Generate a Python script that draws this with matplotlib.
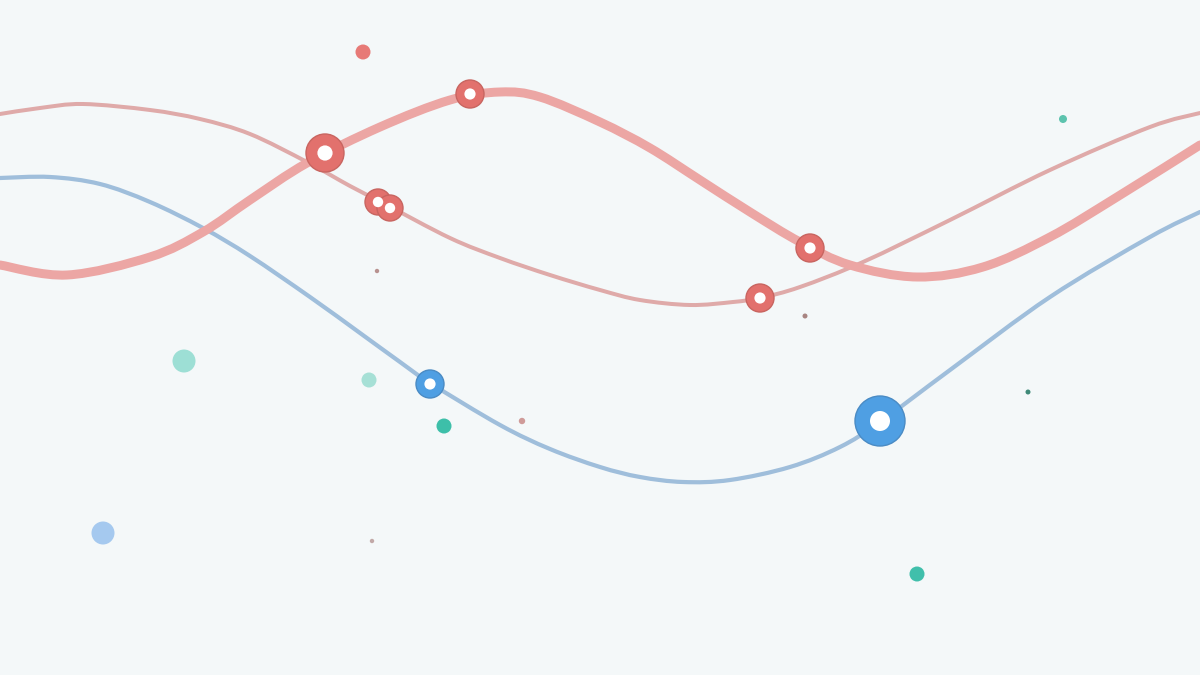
import numpy as np
import matplotlib.pyplot as plt
from matplotlib.path import Path
from matplotlib.patches import PathPatch

# all values in picture units (x to the right, y downwards)
thick_x = [0, 67, 150, 203, 250, 307, 380, 450, 500, 540, 600, 650, 700, 750, 800, 850, 917, 983, 1050, 1117, 1200]
thick_y = [265, 275, 257, 232, 200, 163, 127, 100, 92, 97, 122, 148, 180, 212, 242, 265, 277, 267, 237, 197, 145]

thin_x = [0, 40, 83, 150, 200, 250, 307, 350, 383, 450, 500, 550, 600, 640, 690, 733, 760, 800, 863, 950, 1050, 1150, 1200]
thin_y = [114, 108, 104, 110, 119, 134, 162, 186, 203, 238, 258, 275, 290, 300, 305, 302, 298, 287, 262, 220, 170, 127, 113]

blue_x = [0, 50, 100, 150, 203, 250, 310, 360, 400, 430, 500, 550, 600, 640, 683, 730, 790, 840, 880, 950, 1050, 1150, 1200]
blue_y = [178, 177, 184, 202, 228, 256, 297, 333, 362, 383, 425, 449, 467, 477, 482, 480, 467, 447, 422, 370, 297, 237, 212]

# ring markers sitting on the curves: x, y, outer radius
thick_mk_x = [325, 470, 810]
thick_mk_y = [153, 94, 248]
thick_mk_r = [19, 14, 14]
thin_mk_x = [378, 390, 760]
thin_mk_y = [202, 208, 298]
thin_mk_r = [13, 13, 14]
blue_mk_x = [430, 880]
blue_mk_y = [384, 421]
blue_mk_r = [14, 25]

# loose dots
dot_x = [363, 377, 805, 184, 369, 444, 522, 103, 372, 917, 1063, 1028]
dot_y = [52, 271, 316, 361, 380, 426, 421, 533, 541, 574, 119, 392]
dot_r = [7.5, 2.2, 2.5, 11.5, 7.5, 7.5, 3.2, 11.5, 2.2, 7.5, 4, 2.5]
dot_c = ['#e77a77', '#b89290', '#a88582', '#9ddfd5', '#a6e0d6', '#3dbfa9', '#cf9b99',
         '#a5c9ef', '#c2a9a8', '#40bfab', '#5cc3ae', '#3f8a78']

bg = '#f4f8f9'
fig = plt.figure(figsize=(12, 6.75), dpi=100, facecolor=bg)
ax = fig.add_axes([0, 0, 1, 1])
ax.set_facecolor(bg)
ax.set_xlim(0, 1200)
ax.set_ylim(675, 0)
ax.axis('off')

px = 0.72  # points per pixel at 100 dpi


def smooth_line(xs, ys, color, width, z):
    # cubic bezier through the read points (catmull-rom tangents)
    p = np.column_stack([xs, ys]).astype(float)
    ext = np.vstack([p[0], p, p[-1]])
    verts = [p[0]]
    codes = [Path.MOVETO]
    for i in range(1, len(ext) - 2):
        p0, p1, p2, p3 = ext[i - 1], ext[i], ext[i + 1], ext[i + 2]
        verts += [p1 + (p2 - p0) / 6, p2 - (p3 - p1) / 6, p2]
        codes += [Path.CURVE4] * 3
    ax.add_patch(PathPatch(Path(verts, codes), fill=False, edgecolor=color,
                           lw=width * px, capstyle='round', zorder=z))


def ring(xs, ys, rs, face, edge, hole, z):
    d = np.array(rs) * 2 * px
    ax.scatter(xs, ys, s=d ** 2, c=face, edgecolors=edge, linewidths=1.0, zorder=z)
    ax.scatter(xs, ys, s=(d * hole) ** 2, c='white', linewidths=0, zorder=z + 0.1)


smooth_line(thin_x, thin_y, '#dfaaa9', 4, 2)
smooth_line(blue_x, blue_y, '#9fbedb', 4.2, 2)
smooth_line(thick_x, thick_y, '#eca6a4', 9, 3)

ring(thin_mk_x, thin_mk_y, thin_mk_r, '#e2716d', '#c86560', 0.4, 4)
ring(thick_mk_x, thick_mk_y, thick_mk_r, '#e2716d', '#c86560', 0.4, 5)
ring(blue_mk_x, blue_mk_y, blue_mk_r, '#4f9fe3', '#4a8bc4', 0.4, 5)

d = np.array(dot_r) * 2 * px
ax.scatter(dot_x, dot_y, s=d ** 2, c=dot_c, linewidths=0, zorder=6)

fig.savefig('out.png', dpi=100, facecolor=bg)
